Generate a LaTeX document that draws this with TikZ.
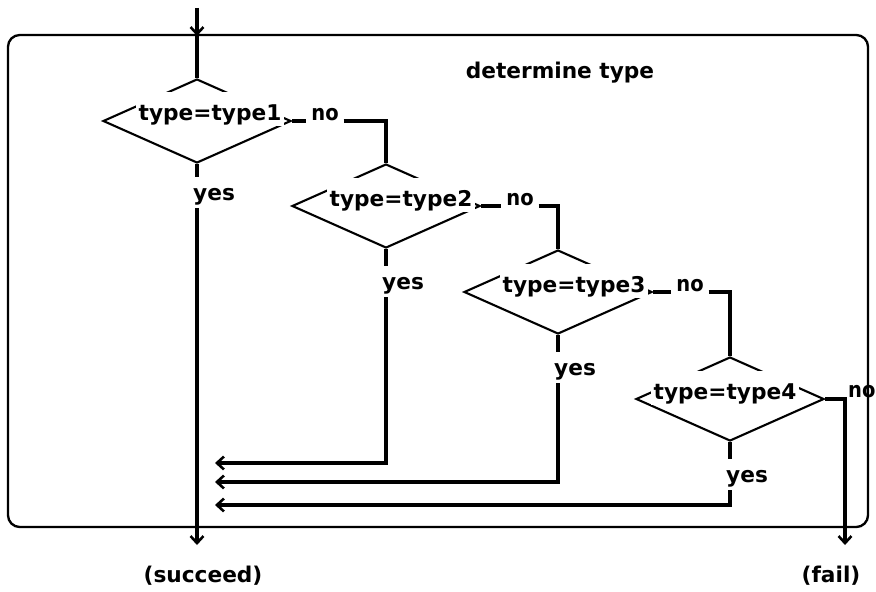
\documentclass[tikz,border=0pt]{standalone}
\usepackage{fontspec}
\setmainfont{DejaVu Sans}
\newfontfamily\condfont{DejaVu Sans Condensed}
\usetikzlibrary{shapes.geometric,arrows.meta,calc}
\begin{document}
\begin{tikzpicture}[x=0.03cm,y=-0.03cm,
  conn/.style={line width=3.2pt},
  arr/.style={conn,-{Straight Barb[length=6pt,width=11pt,line width=2.2pt]}},
  dec/.style={draw,diamond,line width=1.8pt,inner sep=0pt,
    minimum width=5.64cm,minimum height=2.52cm},
  lbl/.style={font=\bfseries\fontsize{18.5}{22}\selectfont,inner sep=0pt},
  nolbl/.style={font=\condfont\bfseries\fontsize{18.5}{22}\selectfont,inner sep=0pt},
  test/.style={lbl,fill=white,inner xsep=2pt,text height=24pt,text depth=5pt},
]
\useasboundingbox (0,0) rectangle (876,591);

% enclosing frame
\draw[line width=2pt,rounded corners=10pt] (8,35) rectangle (868,527);
\node[lbl,anchor=base] (title) at (560,78) {determine type};

% decisions
\node[dec] (d1) at (197,121) {};
\node[dec] (d2) at (386,206) {};
\node[dec] (d3) at (558,292) {};
\node[dec] (d4) at (730,399) {};

\node[test,anchor=base] (t1) at (210,120) {type=type1};
\node[test,anchor=base] (t2) at (401,206) {type=type2};
\node[test,anchor=base] (t3) at (574,292) {type=type3};
\node[test,anchor=base] (t4) at (725,399) {type=type4};

% "no" labels
\node[nolbl,anchor=base,inner xsep=4pt] (n1) at (325,120) {no};
\node[nolbl,anchor=base,inner xsep=4pt] (n2) at (520,205) {no};
\node[nolbl,anchor=base,inner xsep=4pt] (n3) at (690,291) {no};
\node[nolbl,anchor=base west] (n4) at (848,397) {no};

% "yes" labels
\node[lbl,anchor=north west] (y1) at (193,188) {yes};
\node[lbl,anchor=north west] (y2) at (382,277) {yes};
\node[lbl,anchor=north west] (y3) at (554,363) {yes};
\node[lbl,anchor=north west] (y4) at (726,470) {yes};

% outcomes
\node[lbl,anchor=base] (succ) at (203,582) {(succeed)};
\node[lbl,anchor=base] (fail) at (831,582) {(fail)};

\coordinate (in) at (197,8);
\coordinate (entry) at (197,36);
\coordinate (s) at (197,545);
\coordinate (f) at (845,545);
\coordinate (r2) at (215,463);
\coordinate (r3) at (215,482);
\coordinate (r4) at (215,505);

% entry
\draw[arr] (in) -- (entry);
\draw[conn] (entry) -- (d1.north);

% no branches
\draw[conn] (d1.east) -- (n1.west |- d1.east);
\draw[conn] (n1.east |- d1.east) -| (d2.north);
\draw[conn] (d2.east) -- (n2.west |- d2.east);
\draw[conn] (n2.east |- d2.east) -| (d3.north);
\draw[conn] (d3.east) -- (n3.west |- d3.east);
\draw[conn] (n3.east |- d3.east) -| (d4.north);
\draw[arr] (d4.east) -| (f);

% yes branches
\draw[conn] (d1.south) -- ($(y1.north -| d1.south)+(0,-11)$);
\draw[arr] ($(y1.south -| d1.south)+(0,3)$) -- (s);
\draw[conn] (d2.south) -- ($(y2.north -| d2.south)+(0,-11)$);
\draw[arr] ($(y2.south -| d2.south)+(0,3)$) |- (r2);
\draw[conn] (d3.south) -- ($(y3.north -| d3.south)+(0,-11)$);
\draw[arr] ($(y3.south -| d3.south)+(0,3)$) |- (r3);
\draw[conn] (d4.south) -- ($(y4.north -| d4.south)+(0,-11)$);
\draw[arr] ($(y4.south -| d4.south)+(0,3)$) |- (r4);
\end{tikzpicture}
\end{document}
